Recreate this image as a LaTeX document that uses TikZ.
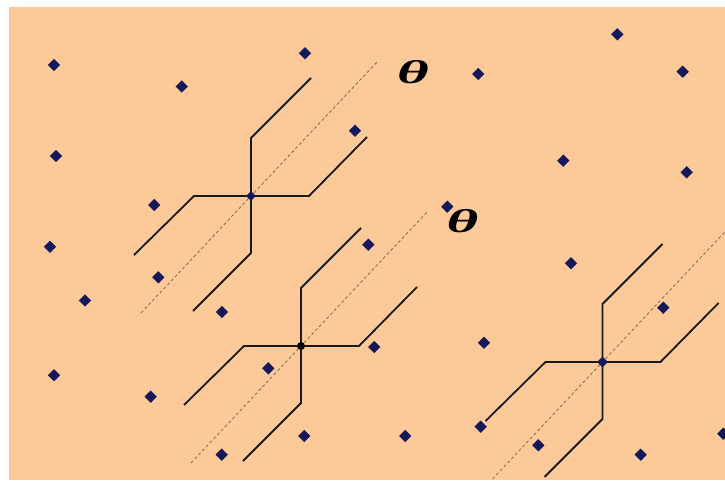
\documentclass[tikz,border=0pt]{standalone}
\usepackage{fontspec}
\setmainfont{Liberation Serif}
\usetikzlibrary{shapes.geometric,calc}
\definecolor{peach}{RGB}{252,201,153}
\definecolor{navy}{RGB}{22,24,92}
\definecolor{guide}{RGB}{110,95,80}
\tikzset{
  dot/.style={diamond, fill=navy, draw=none, inner sep=0pt, minimum size=12.5pt},
  hubdot/.style={circle, fill=black, inner sep=0pt, minimum size=8pt},
  armline/.style={line width=1.8pt, line join=miter, draw=black!90},
  guideline/.style={line width=0.7pt, draw=guide, dash pattern=on 3pt off 2.5pt},
  anglelabel/.style={font=\fontsize{33}{33}\selectfont\bfseries\itshape, xscale=1.85, transform shape, inner sep=0pt}
}
\begin{document}
\begin{tikzpicture}[x=1pt,y=-1pt]
  \useasboundingbox (0,0) rectangle (725,481);
  \clip (0,0) rectangle (725,481);
  \fill[white] (0,0) rectangle (725,481);
  \fill[peach] (9,7) rectangle (725,480);

  % scattered lattice points
  \foreach \x/\y [count=\i] in {
    54/65, 181.7/86.5, 305/53.3, 56/156, 355/130.7, 154.3/205, 50/246.7,
    158.3/277.3, 85/300.5, 222/312, 368.3/244.7, 447.3/206.7, 478.3/74,
    617.3/34.3, 682.7/71.7, 563.3/160.7, 686.7/172.3, 571/263.3, 663.3/307.7,
    484/342.7, 374.3/347, 268.3/368.3, 54/375.3, 150.7/396.7, 304.3/436,
    405.3/436, 221.7/454.7, 480.7/426.7, 538.3/445.3, 640.7/454.7, 723.3/433.7}
    \node[dot] (p\i) at (\x,\y) {};

  % crosses: each hub has four arms that bend off at 45 degrees
  \foreach \cx/\cy/\n in {251/196/1, 301/346/2, 602.5/362/3} {
    \coordinate (c\n) at (\cx,\cy);
    \coordinate (g\n a) at ($(c\n)+(-110,117)$);
    \coordinate (g\n b) at ($(c\n)+(126,-134)$);
    \draw[guideline] (g\n a) -- (g\n b);
    \draw[armline] (c\n) -- ++(0,-58) -- ++(60,-60);
    \draw[armline] (c\n) -- ++(58,0) -- ++(58,-59);
    \draw[armline] (c\n) -- ++(-57,0) -- ++(-60,59);
    \draw[armline] (c\n) -- ++(0,57) -- ++(-58,58);
  }
  \node[dot, minimum size=10pt] (h1) at (c1) {};
  \node[hubdot] (h2) at (c2) {};
  \node[dot, minimum size=11pt] (h3) at (c3) {};

  % angle labels
  \node[anglelabel] (t1) at (413,72.5) {θ};
  \node[anglelabel] (t2) at (462.5,221.5) {θ};
\end{tikzpicture}
\end{document}
